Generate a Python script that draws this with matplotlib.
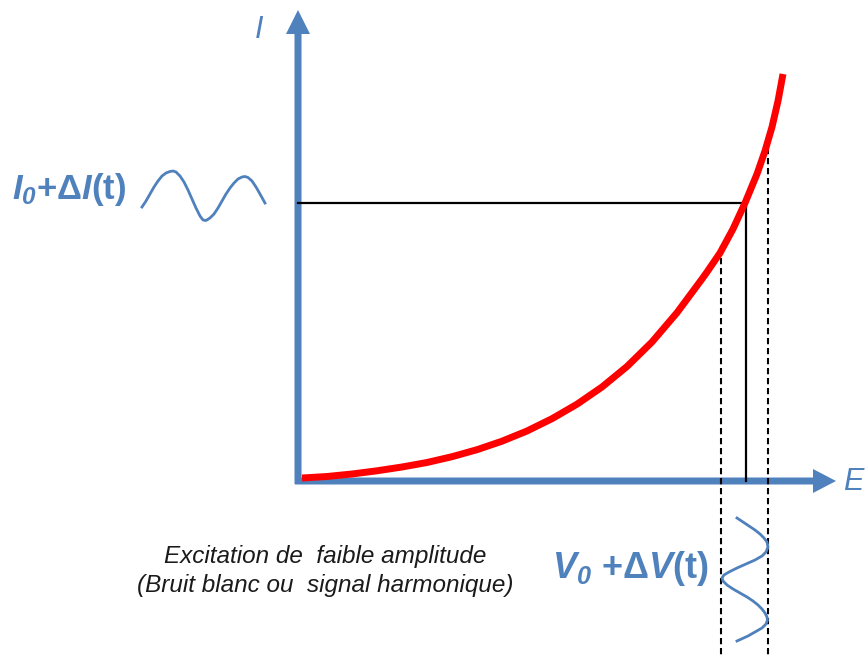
import numpy as np
import matplotlib
matplotlib.use('Agg')
import matplotlib.pyplot as plt

# colours
col_blue = '#4F81BD'
col_red = '#FF0000'

plt.rcParams.update({'font.family': 'Liberation Sans',
                     'mathtext.fontset': 'custom',
                     'mathtext.rm': 'Liberation Sans',
                     'mathtext.it': 'Liberation Sans:italic',
                     'mathtext.bf': 'Liberation Sans:bold',
                     'mathtext.bfit': 'Liberation Sans:italic:bold'})

# diagram coordinates (pixel-like units, y grows downward)
origin = (298, 481)
e_axis_end = 836
i_axis_end = 10

# I(E) characteristic
curve_x = [302, 327, 352, 377, 402, 427, 452, 477, 502, 527, 552, 577, 602, 627,
           652, 677, 702, 707, 720, 733, 745, 757, 765, 772, 778, 783]
curve_y = [478, 476.5, 474, 470.8, 467, 462.5, 456.7, 449.7, 441.2, 431, 418.7,
           404.2, 387, 366.5, 342, 312.7, 279, 272, 253, 229, 203, 174, 151, 127,
           101, 74]

# operating point and excitation limits
e0, i0 = 746, 203
e_low, e_low_top = 721, 258
e_high, e_high_top = 768, 148

# small sine next to the current label
wave_i_x = [142, 146, 150, 154, 158, 162, 166, 170, 173, 176, 180, 184, 188, 192,
            196, 200, 203, 206, 210, 214, 218, 222, 226, 230, 234, 238, 242, 245,
            248, 252, 256, 260, 265]
wave_i_y = [207, 201, 194, 187, 181, 176, 173, 171.5, 171, 172, 176, 182, 190, 199,
            208, 216, 220, 220.5, 218, 214, 208, 201, 194, 188, 183, 179, 177, 176.5,
            177.5, 181, 187, 194, 203]

# vertical sine for the voltage excitation
wave_v_y = [518, 522, 526, 530, 534, 538, 542, 547, 552, 556, 560, 564, 568, 572,
            575, 578, 581, 585, 589, 593, 597, 601, 605, 609, 613, 617, 620, 624,
            628, 632, 636, 641]
wave_v_x = [737, 743, 749, 755, 760, 764, 767, 768, 766, 762, 755, 746, 737, 729,
            724, 722, 723, 727, 733, 740, 747, 753, 758, 762, 765, 767, 767.5, 766,
            762, 755, 748, 737]

fig = plt.figure(figsize=(8.65, 6.57), dpi=100)
ax = fig.add_axes([0, 0, 1, 1])
ax.set_xlim(0, 865)
ax.set_ylim(657, 0)
ax.axis('off')

# axes arrows
ax.arrow(origin[0], origin[1] + 3, 0, i_axis_end - origin[1] - 3, width=7,
         head_width=24, head_length=24, length_includes_head=True,
         color=col_blue, lw=0, zorder=2)
ax.arrow(origin[0] - 3, origin[1], e_axis_end - origin[0] + 3, 0, width=7,
         head_width=24, head_length=23, length_includes_head=True,
         color=col_blue, lw=0, zorder=2)

# construction lines
ax.plot([origin[0], e0], [i0, i0], color='black', lw=1.6, zorder=3)
ax.plot([e0, e0], [i0, origin[1]], color='black', lw=1.6, zorder=3)
ax.plot([e_low, e_low], [e_low_top, 657], color='black', lw=1.5,
        ls=(0, (3, 1.8)), zorder=3)
ax.plot([e_high, e_high], [e_high_top, 657], color='black', lw=1.5,
        ls=(0, (3, 1.8)), zorder=3)

# characteristic
ax.plot(curve_x, curve_y, color=col_red, lw=5, solid_capstyle='butt',
        solid_joinstyle='round', zorder=4)

# waves
ax.plot(wave_i_x, wave_i_y, color=col_blue, lw=2, solid_joinstyle='round', zorder=4)
ax.plot(wave_v_x, wave_v_y, color=col_blue, lw=2, solid_joinstyle='round', zorder=4)

# labels
ax.text(259, 30, 'I', fontsize=22, style='italic', color=col_blue,
        ha='center', va='center')
ax.text(843, 482, 'E', fontsize=22, style='italic', color=col_blue,
        ha='left', va='center')
ax.text(12, 189, r'$\mathbfit{I}_{\mathbfit{0}}\mathbf{+\Delta}\mathbfit{I}\mathbf{(t)}$',
        fontsize=25, color=col_blue, ha='left', va='center')
ax.text(552, 568, r'$\mathbfit{V}_{\mathbfit{0}}\ \mathbf{+\Delta}\mathbfit{V}\mathbf{(t)}$',
        fontsize=26, color=col_blue, ha='left', va='center')
ax.text(325, 571, 'Excitation de  faible amplitude\n(Bruit blanc ou  signal harmonique)',
        fontsize=17.5, style='italic', color='#1a1a1a', ha='center', va='center',
        linespacing=1.38)

fig.savefig('out.png', dpi=100)
